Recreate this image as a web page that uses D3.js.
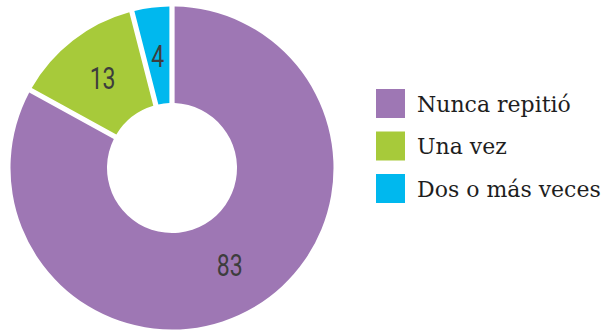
<!DOCTYPE html>
<html>
<head>
<meta charset="utf-8">
<script src="https://cdn.jsdelivr.net/npm/d3@7/dist/d3.min.js"></script>
<style>
  html, body { margin: 0; padding: 0; background: #fff; }
  svg { display: block; }
</style>
</head>
<body>
<svg id="chart" width="605" height="330"></svg>
<script>
// Share of students by number of repeated grades
const categories = ["Nunca repitió", "Una vez", "Dos o más veces"];
const values = [83, 13, 4];
const colors = ["#9e77b4", "#a7ca3a", "#00b8ee"];

const W = 605, H = 330;
const cx = 172, cy = 168;
const outerR = 161.5, innerR = 65;

const svg = d3.select("#chart");

const color = d3.scaleOrdinal().domain(categories).range(colors);

const data = categories.map((c, i) => ({ category: c, value: values[i] }));

const pie = d3.pie()
  .value(d => d.value)
  .sort(null);

const arc = d3.arc()
  .innerRadius(innerR)
  .outerRadius(outerR)
  .padAngle(0.03);

const labelArc = d3.arc()
  .innerRadius(innerR)
  .outerRadius(outerR);

const g = svg.append("g").attr("transform", `translate(${cx},${cy})`);

const arcs = pie(data);

g.selectAll("path.slice")
  .data(arcs)
  .join("path")
  .attr("class", "slice")
  .attr("d", arc)
  .attr("fill", d => color(d.data.category));

// Value labels in a narrow face, centred on each slice
g.selectAll("text.value")
  .data(arcs)
  .join("text")
  .attr("class", "value")
  .attr("transform", d => {
    const [x, y] = labelArc.centroid(d);
    return `translate(${x},${y}) scale(0.72,1)`;
  })
  .attr("text-anchor", "middle")
  .attr("dominant-baseline", "central")
  .attr("font-family", "Roboto, 'Noto Sans', sans-serif")
  .attr("font-weight", 400)
  .attr("font-size", 32)
  .attr("fill", "#3d3d3d")
  .text(d => d.data.value);

// Legend
const legend = svg.append("g").attr("transform", "translate(376,89)");
const step = 42.5, box = 29;

const items = legend.selectAll("g.item")
  .data(categories)
  .join("g")
  .attr("class", "item")
  .attr("transform", (d, i) => `translate(0,${i * step})`);

items.append("rect")
  .attr("width", box)
  .attr("height", box)
  .attr("fill", d => color(d));

items.append("text")
  .attr("x", 41)
  .attr("y", box / 2 + 8)
  .attr("font-family", "'DejaVu Serif', serif")
  .attr("font-size", 22)
  .attr("fill", "#1e1e1e")
  .text(d => d);
</script>
</body>
</html>
